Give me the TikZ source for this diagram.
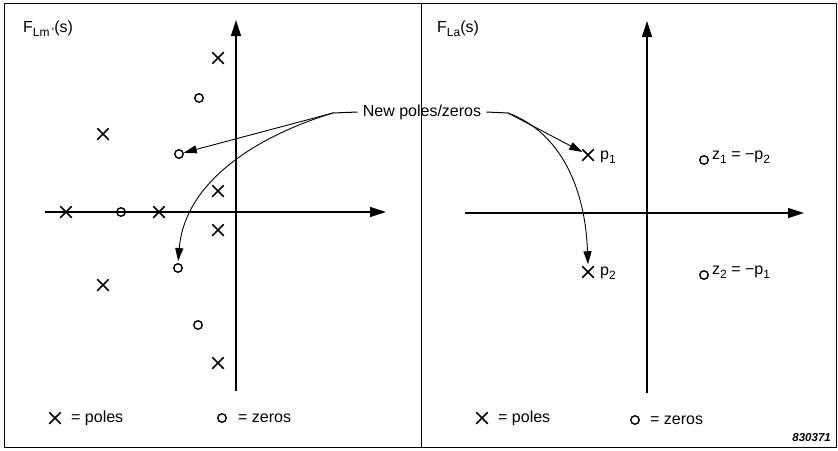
\documentclass[tikz,border=0pt]{standalone}
\usepackage{fontspec}
\setmainfont{Liberation Sans}
\usetikzlibrary{arrows.meta,shapes.misc}
\newcommand\mysub[1]{\raisebox{-0.45ex}{\fontsize{12}{12}\selectfont #1}}
\tikzset{
  txt/.style={inner sep=1pt, font=\fontsize{16}{19}\selectfont},
  pole/.style={draw, cross out, minimum size=10pt, inner sep=0pt, line width=1.5pt},
  zero/.style={draw, circle, minimum size=8.5pt, inner sep=0pt, line width=1.4pt},
  axis/.style={line width=1.2pt, -{Triangle[length=16pt,width=10pt]}},
  conn/.style={line width=0.9pt, -{Triangle[length=13pt,width=8pt]}},
  lead/.style={line width=1pt},
  frame/.style={line width=1pt}
}
\begin{document}
\begin{tikzpicture}[x=1pt,y=-1pt]
\useasboundingbox (0,0) rectangle (838,450);
% frame
\draw[frame] (4,3) rectangle (836.5,447);
\draw[frame] (421.5,3) -- (421.5,447);

% ---------- left panel ----------
\node[txt, anchor=west] (tl) at (22,29) {F\mysub{Lm\,'}(s)};
\coordinate (lxa) at (45,212);
\coordinate (lxb) at (386,212);
\coordinate (lya) at (236,391);
\coordinate (lyb) at (236,20);
\draw[axis] (lxa) -- (lxb);
\draw[axis] (lya) -- (lyb);

\node[pole] (lp1) at (218,58) {};
\node[pole] (lp2) at (103,134) {};
\node[pole] (lp3) at (218,191) {};
\node[pole] (lp4) at (66,212) {};
\node[pole] (lp5) at (159,212) {};
\node[pole] (lp6) at (218,230) {};
\node[pole] (lp7) at (103,285) {};
\node[pole] (lp8) at (218,363) {};

\node[zero] (lz1) at (199,98) {};
\node[zero] (lz2) at (179,154) {};
\node[zero] (lz3) at (121,212) {};
\node[zero] (lz4) at (178,268) {};
\node[zero] (lz5) at (198,325) {};

% legend left
\node[pole] (lgp) at (55,418) {};
\node[txt, anchor=west] (lgpt) at (70,418) {= poles};
\node[zero] (lgz) at (222,418) {};
\node[txt, anchor=west] (lgzt) at (237,418) {= zeros};

% ---------- right panel ----------
\node[txt, anchor=west] (tr) at (436,29) {F\mysub{La}(s)};
\coordinate (rxa) at (465,213);
\coordinate (rxb) at (804,213);
\coordinate (rya) at (647,393);
\coordinate (ryb) at (647,21);
\draw[axis] (rxa) -- (rxb);
\draw[axis] (rya) -- (ryb);

\node[pole] (rp1) at (588,155) {};
\node[txt, anchor=west] (rp1t) at (599,157) {p\mysub{1}};
\node[pole] (rp2) at (588,272) {};
\node[txt, anchor=west] (rp2t) at (599,273) {p\mysub{2}};
\node[zero] (rz1) at (704,160) {};
\node[txt, anchor=west] (rz1t) at (711,157) {z\mysub{1} = −p\mysub{2}};
\node[zero] (rz2) at (704,275) {};
\node[txt, anchor=west] (rz2t) at (711,272) {z\mysub{2} = −p\mysub{1}};

% legend right
\node[pole] (rgp) at (482,418) {};
\node[txt, anchor=west] (rgpt) at (497,418) {= poles};
\node[zero] (rgz) at (635,420) {};
\node[txt, anchor=west] (rgzt) at (649,420) {= zeros};

\node[anchor=east, inner sep=0pt, font=\fontsize{11.5}{13}\selectfont\bfseries\itshape] (num) at (831,438) {830371};

% ---------- new poles/zeros ----------
\node[txt, inner sep=5pt] (np) at (422,112) {New poles/zeros};
\coordinate (nl) at (333,113);
\coordinate (nr) at (508,113);
\draw[lead] (np.west) -- (nl);
\draw[lead] (np.east) -- (nr);
\draw[conn] (nl) -- (lz2);
\draw[conn, shorten >=2pt] (nl) .. controls (260,135) and (185,180) .. (lz4.north);
\draw[conn] (nr) -- (rp1);
\draw[conn, shorten >=2pt] (nr) .. controls (555,130) and (585,180) .. (rp2.north);
\end{tikzpicture}
\end{document}
